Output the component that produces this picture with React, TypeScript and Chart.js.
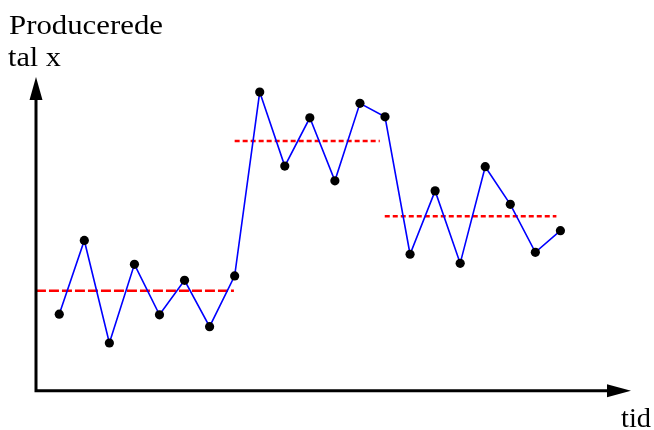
import React, { useEffect, useRef } from "react";
import { Chart, registerables } from "chart.js";

Chart.register(...registerables);

const periods = [1, 2, 3, 4, 5, 6, 7, 8, 9, 10, 11, 12, 13, 14, 15, 16, 17, 18, 19, 20, 21];
const production = [24.4, 47.9, 15.2, 40.3, 24.2, 35.2, 20.4, 36.6, 95.2, 71.6, 87.0, 66.9, 91.6, 87.3, 43.5, 63.7, 40.6, 71.4, 59.4, 44.1, 51.0];
const meanLevels = [31.9, 79.6, 55.6];
const meanStart = [0.07, 8.0, 13.99];
const meanEnd = [7.97, 13.79, 20.84];
const meanDash = [[10, 3], [5, 3], [5, 3]];
const yLabelLines = ["Producerede", "tal x"];
const xLabel = "tid";

const axesPlugin = {
  id: "arrowAxes",
  afterDraw(chart: any) {
    const { ctx, chartArea, scales } = chart;
    const x0 = chartArea.left;
    const y0 = scales.y.getPixelForValue(0);
    const top = chartArea.top;
    const right = chartArea.right;
    ctx.save();
    ctx.strokeStyle = "#000";
    ctx.fillStyle = "#000";
    ctx.lineWidth = 3;
    ctx.lineCap = "butt";
    ctx.beginPath();
    ctx.moveTo(x0, y0 + 1.5);
    ctx.lineTo(x0, top + 20);
    ctx.moveTo(x0 - 1.5, y0);
    ctx.lineTo(right - 20, y0);
    ctx.stroke();
    // y arrow
    ctx.beginPath();
    ctx.moveTo(x0, top);
    ctx.lineTo(x0 - 6.5, top + 23);
    ctx.lineTo(x0 + 6.5, top + 23);
    ctx.closePath();
    ctx.fill();
    // x arrow
    ctx.beginPath();
    ctx.moveTo(right, y0);
    ctx.lineTo(right - 24, y0 - 6.5);
    ctx.lineTo(right - 24, y0 + 6.5);
    ctx.closePath();
    ctx.fill();
    // labels
    ctx.font = "27px 'Liberation Serif', 'DejaVu Serif', serif";
    ctx.textBaseline = "alphabetic";
    ctx.textAlign = "left";
    const drawScaled = (t: string, x: number, y: number, w: number) => {
      const m = ctx.measureText(t).width;
      ctx.save();
      ctx.translate(x, y);
      ctx.scale(w / m, 1);
      ctx.fillText(t, 0, 0);
      ctx.restore();
    };
    drawScaled(yLabelLines[0], 9, 34, 154);
    drawScaled(yLabelLines[1], 8, 66, 53);
    drawScaled(xLabel, 621, 427, 30);
    ctx.restore();
  },
};

export default function App() {
  const ref = useRef<HTMLCanvasElement | null>(null);
  useEffect(() => {
    document.body.style.margin = "0";
    const canvas = ref.current;
    if (!canvas) return;
    const meanSets = meanLevels.map((lvl, i) => ({
      data: [
        { x: meanStart[i], y: lvl },
        { x: meanEnd[i], y: lvl },
      ],
      borderColor: "#ff0000",
      borderWidth: 2.5,
      borderDash: meanDash[i],
      pointRadius: 0,
      fill: false,
      order: 2,
    }));
    const chart = new Chart(canvas, {
      type: "line",
      data: {
        datasets: [
          ...meanSets,
          {
            data: periods.map((p, i) => ({ x: p, y: production[i] })),
            borderColor: "#0000ff",
            borderWidth: 1.6,
            pointRadius: 4.6,
            pointBackgroundColor: "#000",
            pointBorderColor: "#000",
            pointBorderWidth: 0,
            tension: 0,
            fill: false,
            order: 1,
          },
        ],
      },
      options: {
        responsive: false,
        animation: false,
        layout: { padding: { left: 36, right: 23, top: 77, bottom: 39.3 } },
        plugins: { legend: { display: false }, tooltip: { enabled: false }, title: { display: false } },
        scales: {
          x: { type: "linear", display: false, min: 0.072, max: 23.817 },
          y: { type: "linear", display: false, min: 0, max: 100 },
        },
      },
      plugins: [axesPlugin],
    } as any);
    return () => chart.destroy();
  }, []);
  return (
    <div style={{ width: 654, height: 430, background: "#fff" }}>
      <canvas ref={ref} width={654} height={430} style={{ display: "block" }} />
    </div>
  );
}
